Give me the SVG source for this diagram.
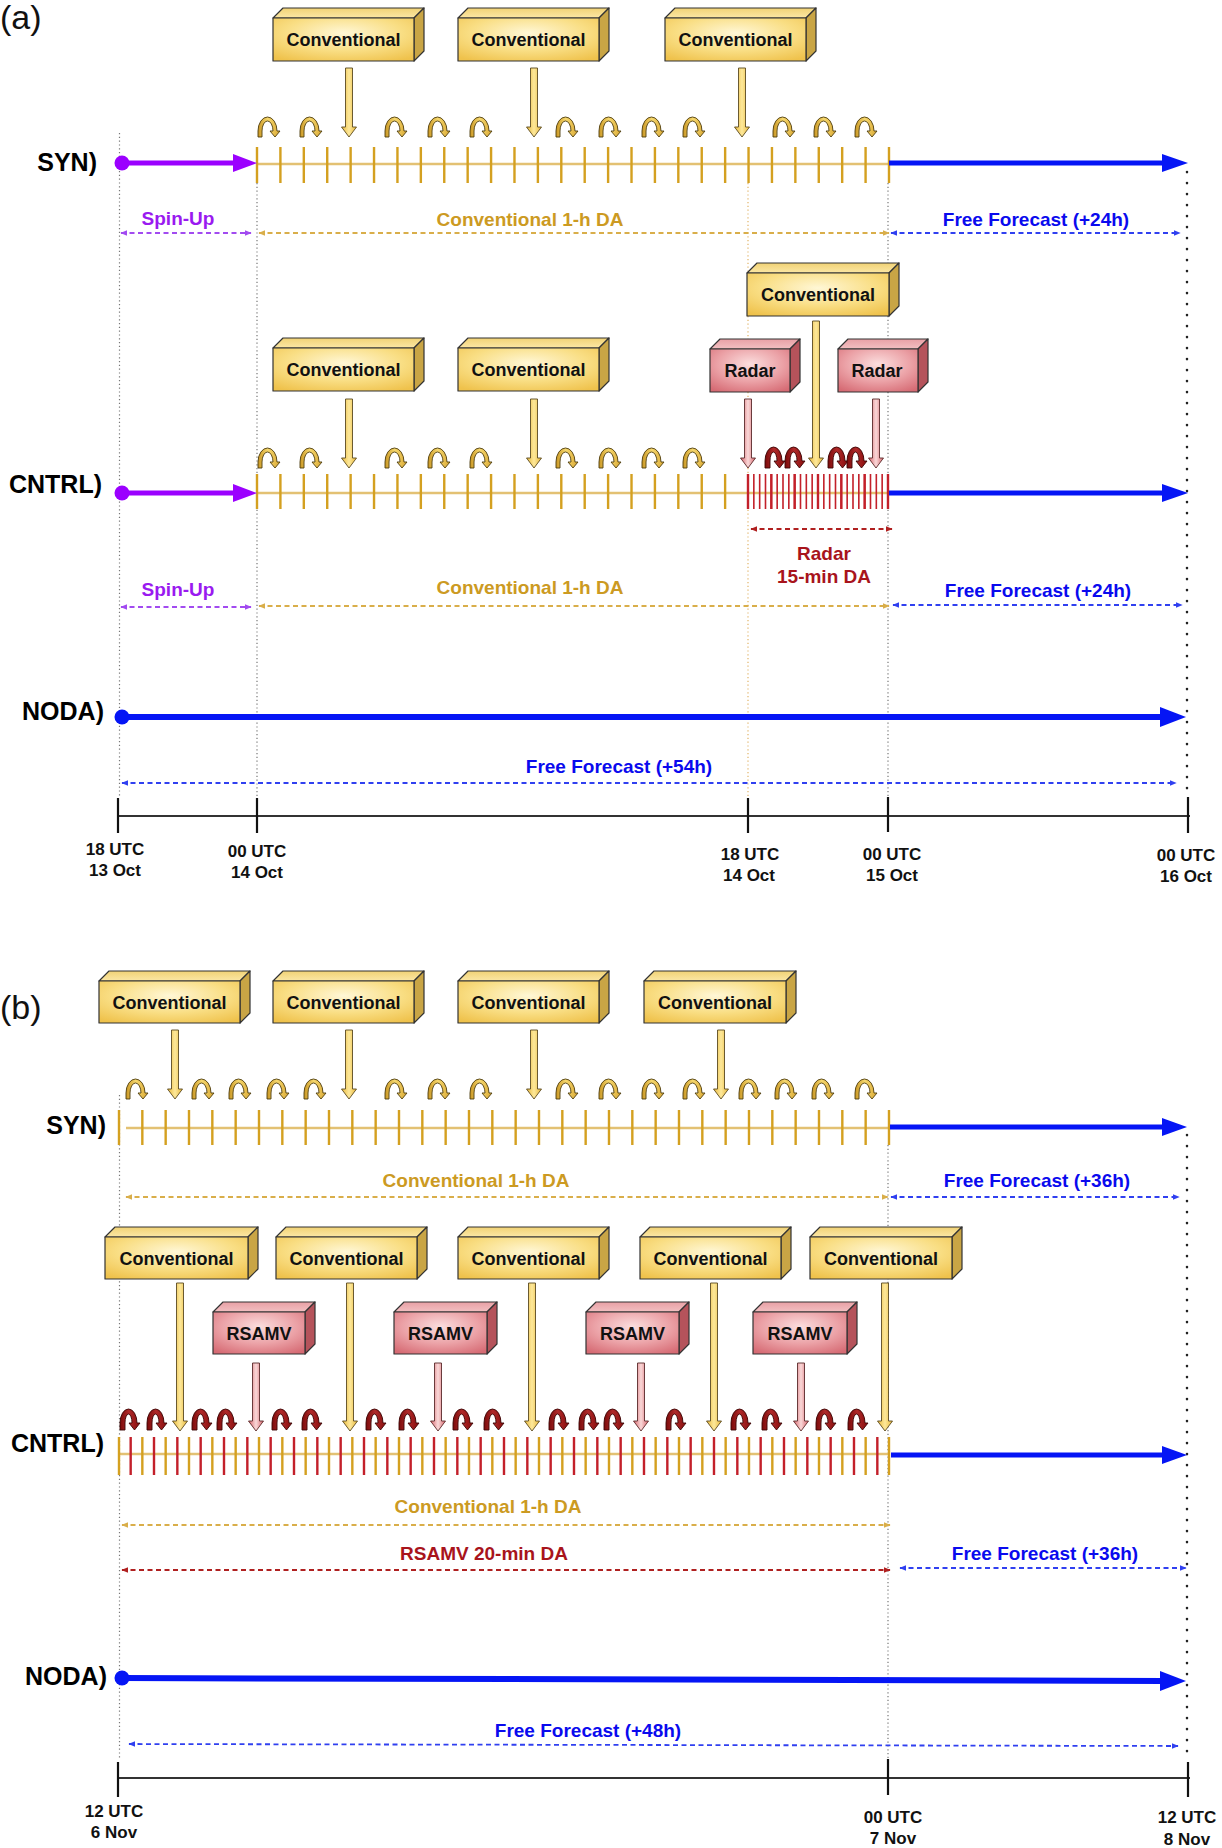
<svg xmlns="http://www.w3.org/2000/svg" width="1222" height="1848" viewBox="0 0 1222 1848">
<defs>
<style>
text{font-family:"Liberation Sans",Arial,Helvetica,sans-serif;font-weight:bold}
.pl{font-weight:normal;font-size:34px;fill:#111}
.row{font-size:25px;fill:#000;text-anchor:end}
.bx{font-size:18px;fill:#111;text-anchor:middle}
.lb{font-size:19px;text-anchor:middle}
.ax{font-size:17px;fill:#111;text-anchor:middle}
.pu{fill:#9A1AF0}.go{fill:#CC9A22}.bl{fill:#0A0AEE}.rd{fill:#A8141C}
.bf{stroke:#333;stroke-width:1.2;stroke-linejoin:round}
.cf{fill:url(#cFront)}.ct{fill:url(#cTop)}.cr{fill:#C9A545}
.rf{fill:url(#rFront)}.rt{fill:url(#rTop)}.rr{fill:#B5535B}
.ca{fill:url(#cArr);stroke:#5a4a20;stroke-width:0.9}
.ra{fill:url(#rArr);stroke:#5a2a2a;stroke-width:0.9}
.dot{stroke:#777;stroke-width:1.2;stroke-dasharray:1.2 2.6;fill:none}
.doto{stroke:#E2B468;stroke-width:1.2;stroke-dasharray:1.2 2.6;fill:none}
.dotk{stroke:#222;stroke-width:2.6;stroke-dasharray:0.1 10.9;stroke-linecap:round;fill:none}
.dsh{stroke-width:1.8;stroke-dasharray:5 3.5;fill:none}
.tg{stroke:#D4A020;fill:none}
.tr{stroke:#C3202A;fill:none}
.tl{stroke:#E3C173;stroke-width:2.5}
.axl{stroke:#333;stroke-width:2;fill:none}
.axt{stroke:#111;stroke-width:2.2;fill:none}
</style>
<radialGradient id="cFront" cx="0.5" cy="0.35" r="0.75"><stop offset="0" stop-color="#FFF7D6"/><stop offset="0.55" stop-color="#F9DE84"/><stop offset="1" stop-color="#EFC24C"/></radialGradient>
<linearGradient id="cTop" x1="0" y1="0" x2="0" y2="1"><stop offset="0" stop-color="#F1D275"/><stop offset="1" stop-color="#FBE7A5"/></linearGradient>
<radialGradient id="rFront" cx="0.5" cy="0.35" r="0.75"><stop offset="0" stop-color="#FBDEDE"/><stop offset="0.55" stop-color="#EBA1A6"/><stop offset="1" stop-color="#D66B74"/></radialGradient>
<linearGradient id="rTop" x1="0" y1="0" x2="0" y2="1"><stop offset="0" stop-color="#E8A0A5"/><stop offset="1" stop-color="#F2C0C2"/></linearGradient>
<linearGradient id="cArr" x1="0" x2="1"><stop offset="0" stop-color="#E9B83A"/><stop offset="0.5" stop-color="#FDE89A"/><stop offset="1" stop-color="#E9B83A"/></linearGradient>
<linearGradient id="rArr" x1="0" x2="1"><stop offset="0" stop-color="#D8646C"/><stop offset="0.5" stop-color="#F9D8D8"/><stop offset="1" stop-color="#D8646C"/></linearGradient>
<linearGradient id="gLoop" x1="0" x2="1"><stop offset="0" stop-color="#C99623"/><stop offset="0.45" stop-color="#F6D86E"/><stop offset="1" stop-color="#D9A733"/></linearGradient>
<linearGradient id="rLoop" x1="0" x2="1"><stop offset="0" stop-color="#7A0A0A"/><stop offset="0.45" stop-color="#B02A2A"/><stop offset="1" stop-color="#850C0C"/></linearGradient>
<path id="gl" d="M-12 0V-6A9.5 14 0 0 1 7-6H10L5 0L0-6H3A5.5 10 0 0 0-8-6V0Z" fill="url(#gLoop)" stroke="#4d3c0e" stroke-width="0.9"/>
<path id="rl" d="M-10 0V-7A8.5 14 0 0 1 7-7H10L4.5 0L-1-7H2A3.5 9 0 0 0-5-7V0Z" fill="url(#rLoop)" stroke="#3a0404" stroke-width="0.9"/>
<marker id="mp" viewBox="0 0 10 10" refX="9" refY="5" markerWidth="7" markerHeight="7" markerUnits="userSpaceOnUse" orient="auto-start-reverse"><path d="M0,1L10,5L0,9z" fill="#A24BF0"/></marker>
<marker id="mg" viewBox="0 0 10 10" refX="9" refY="5" markerWidth="7" markerHeight="7" markerUnits="userSpaceOnUse" orient="auto-start-reverse"><path d="M0,1L10,5L0,9z" fill="#D9AE4A"/></marker>
<marker id="mb" viewBox="0 0 10 10" refX="9" refY="5" markerWidth="7" markerHeight="7" markerUnits="userSpaceOnUse" orient="auto-start-reverse"><path d="M0,1L10,5L0,9z" fill="#3040F0"/></marker>
<marker id="mr" viewBox="0 0 10 10" refX="9" refY="5" markerWidth="7" markerHeight="7" markerUnits="userSpaceOnUse" orient="auto-start-reverse"><path d="M0,1L10,5L0,9z" fill="#B02020"/></marker>
</defs>
<rect width="1222" height="1848" fill="#fff"/>

<!-- ================= PANEL (a) ================= -->
<text class="pl" x="0" y="29">(a)</text>

<g id="a-guides">
<line class="dot" x1="119.5" y1="133" x2="119.5" y2="796"/>
<line class="dot" x1="257" y1="183" x2="257" y2="796"/>
<line class="doto" x1="748" y1="183" x2="748" y2="797"/>
<line class="dot" x1="888" y1="183" x2="888" y2="796"/>
<line class="dotk" x1="1187" y1="172" x2="1187" y2="797"/>
</g>

<g id="a-rowlabels">
<text class="row" x="97" y="171">SYN)</text>
<text class="row" x="102" y="493">CNTRL)</text>
<text class="row" x="104" y="720">NODA)</text>
</g>

<g id="a-timelines">
<line class="tl" x1="257" y1="164" x2="889" y2="164"/>
<line class="tg" x1="255.8" y1="165" x2="890.2" y2="165" stroke-width="36" stroke-dasharray="2.4 21.007"/>
<line class="tl" x1="257" y1="493" x2="888" y2="493"/>
<line class="tg" x1="255.8" y1="491.5" x2="726.3" y2="491.5" stroke-width="35" stroke-dasharray="2.4 21.007"/>
<line class="tr" x1="747.2" y1="491.5" x2="888.8" y2="491.5" stroke-width="35" stroke-dasharray="1.6 4.233"/>
<line class="tr" x1="746.8" y1="491.5" x2="889.2" y2="491.5" stroke-width="35" stroke-dasharray="2.4 20.93"/>
</g>

<g id="connectors">
<!-- thick run arrows (a) -->
<circle cx="122" cy="163" r="7.5" fill="#9B00FF"/>
<line x1="122" y1="163" x2="236" y2="163" stroke="#9B00FF" stroke-width="5"/>
<polygon points="233,154 257,163 233,172" fill="#9B00FF"/>
<circle cx="122" cy="493" r="7.5" fill="#9B00FF"/>
<line x1="122" y1="493" x2="236" y2="493" stroke="#9B00FF" stroke-width="5"/>
<polygon points="233,484 257,493 233,502" fill="#9B00FF"/>
<line x1="889" y1="163" x2="1165" y2="163" stroke="#0515F5" stroke-width="5"/>
<polygon points="1162,154 1188,163 1162,172" fill="#0515F5"/>
<line x1="889" y1="493" x2="1165" y2="493" stroke="#0515F5" stroke-width="5"/>
<polygon points="1162,484 1188,493 1162,502" fill="#0515F5"/>
<circle cx="122" cy="717" r="7.5" fill="#0515F5"/>
<line x1="122" y1="717" x2="1163" y2="717" stroke="#0515F5" stroke-width="6"/>
<polygon points="1160,707 1186,717 1160,727" fill="#0515F5"/>

<!-- dashed spans (a) -->
<line class="dsh" x1="121" y1="233" x2="251" y2="233" stroke="#A24BF0" marker-start="url(#mp)" marker-end="url(#mp)"/>
<line class="dsh" x1="259" y1="233" x2="889" y2="233" stroke="#D9AE4A" marker-start="url(#mg)" marker-end="url(#mg)"/>
<line class="dsh" x1="891" y1="233" x2="1180" y2="233" stroke="#3040F0" marker-start="url(#mb)" marker-end="url(#mb)"/>
<line class="dsh" x1="751" y1="529" x2="892" y2="529" stroke="#B02020" marker-start="url(#mr)" marker-end="url(#mr)"/>
<line class="dsh" x1="121" y1="607" x2="251" y2="607" stroke="#A24BF0" marker-start="url(#mp)" marker-end="url(#mp)"/>
<line class="dsh" x1="259" y1="606" x2="889" y2="606" stroke="#D9AE4A" marker-start="url(#mg)" marker-end="url(#mg)"/>
<line class="dsh" x1="893" y1="605" x2="1182" y2="605" stroke="#3040F0" marker-start="url(#mb)" marker-end="url(#mb)"/>
<line class="dsh" x1="122" y1="783" x2="1176" y2="783" stroke="#3040F0" marker-start="url(#mb)" marker-end="url(#mb)"/>

<!-- observation arrows (a) -->
<path class="ca" d="M345.5,68H352.5V127H356.5L349,137L341.5,127H345.5Z"/>
<path class="ca" d="M530.5,68H537.5V127H541.5L534,137L526.5,127H530.5Z"/>
<path class="ca" d="M738.5,68H745.5V127H749.5L742,137L734.5,127H738.5Z"/>
<path class="ca" d="M345.5,399H352.5V458H356.5L349,468L341.5,458H345.5Z"/>
<path class="ca" d="M530.5,399H537.5V458H541.5L534,468L526.5,458H530.5Z"/>
<path class="ca" d="M812.5,321H819.5V458H823.5L816,468L808.5,458H812.5Z"/>
<path class="ra" d="M744.5,399H751.5V458H755.5L748,468L740.5,458H744.5Z"/>
<path class="ra" d="M872.5,399H879.5V458H883.5L876,468L868.5,458H872.5Z"/>

<!-- cycling loops (a) -->
<use href="#gl" x="270" y="137"/><use href="#gl" x="312" y="137"/><use href="#gl" x="397" y="137"/><use href="#gl" x="440" y="137"/><use href="#gl" x="482" y="137"/><use href="#gl" x="568" y="137"/><use href="#gl" x="611" y="137"/><use href="#gl" x="654" y="137"/><use href="#gl" x="695" y="137"/><use href="#gl" x="785" y="137"/><use href="#gl" x="826" y="137"/><use href="#gl" x="867" y="137"/>
<use href="#gl" x="270" y="468"/><use href="#gl" x="312" y="468"/><use href="#gl" x="397" y="468"/><use href="#gl" x="440" y="468"/><use href="#gl" x="482" y="468"/><use href="#gl" x="568" y="468"/><use href="#gl" x="611" y="468"/><use href="#gl" x="654" y="468"/><use href="#gl" x="695" y="468"/>
<use href="#rl" x="775" y="468"/><use href="#rl" x="795" y="468"/><use href="#rl" x="838" y="468"/><use href="#rl" x="857" y="468"/>
</g>

<!-- nodes (a) -->
<g id="a-syn-conv1"><polygon class="bf ct" points="273,18 283,8 424,8 414,18"/><polygon class="bf cr" points="414,18 424,8 424,51 414,61"/><rect class="bf cf" x="273" y="18" width="141" height="43"/><text class="bx" x="343.5" y="46">Conventional</text></g>
<g id="a-syn-conv2"><polygon class="bf ct" points="458,18 468,8 609,8 599,18"/><polygon class="bf cr" points="599,18 609,8 609,51 599,61"/><rect class="bf cf" x="458" y="18" width="141" height="43"/><text class="bx" x="528.5" y="46">Conventional</text></g>
<g id="a-syn-conv3"><polygon class="bf ct" points="665,18 675,8 816,8 806,18"/><polygon class="bf cr" points="806,18 816,8 816,51 806,61"/><rect class="bf cf" x="665" y="18" width="141" height="43"/><text class="bx" x="735.5" y="46">Conventional</text></g>
<g id="a-cntrl-conv1"><polygon class="bf ct" points="273,348 283,338 424,338 414,348"/><polygon class="bf cr" points="414,348 424,338 424,381 414,391"/><rect class="bf cf" x="273" y="348" width="141" height="43"/><text class="bx" x="343.5" y="376">Conventional</text></g>
<g id="a-cntrl-conv2"><polygon class="bf ct" points="458,348 468,338 609,338 599,348"/><polygon class="bf cr" points="599,348 609,338 609,381 599,391"/><rect class="bf cf" x="458" y="348" width="141" height="43"/><text class="bx" x="528.5" y="376">Conventional</text></g>
<g id="a-cntrl-conv3"><polygon class="bf ct" points="747,273 757,263 899,263 889,273"/><polygon class="bf cr" points="889,273 899,263 899,306 889,316"/><rect class="bf cf" x="747" y="273" width="142" height="43"/><text class="bx" x="818" y="301">Conventional</text></g>
<g id="a-cntrl-radar1"><polygon class="bf rt" points="710,349 720,339 800,339 790,349"/><polygon class="bf rr" points="790,349 800,339 800,382 790,392"/><rect class="bf rf" x="710" y="349" width="80" height="43"/><text class="bx" x="750" y="377">Radar</text></g>
<g id="a-cntrl-radar2"><polygon class="bf rt" points="838,349 848,339 928,339 918,349"/><polygon class="bf rr" points="918,349 928,339 928,382 918,392"/><rect class="bf rf" x="838" y="349" width="80" height="43"/><text class="bx" x="877" y="377">Radar</text></g>

<g id="a-spanlabels">
<text class="lb pu" x="178" y="225">Spin-Up</text>
<text class="lb go" x="530" y="226">Conventional 1-h DA</text>
<text class="lb bl" x="1036" y="226">Free Forecast (+24h)</text>
<text class="lb rd" x="824" y="560">Radar</text>
<text class="lb rd" x="824" y="583">15-min DA</text>
<text class="lb pu" x="178" y="596">Spin-Up</text>
<text class="lb go" x="530" y="594">Conventional 1-h DA</text>
<text class="lb bl" x="1038" y="597">Free Forecast (+24h)</text>
<text class="lb bl" x="619" y="773">Free Forecast (+54h)</text>
</g>

<g id="a-axis">
<line class="axl" x1="118" y1="816" x2="1190" y2="816"/>
<line class="axt" x1="118" y1="798" x2="118" y2="833"/>
<line class="axt" x1="257" y1="798" x2="257" y2="833"/>
<line class="axt" x1="748" y1="798" x2="748" y2="833" stroke-width="1.3"/>
<line class="axt" x1="888" y1="797" x2="888" y2="832"/>
<line class="axt" x1="1188" y1="797" x2="1188" y2="833"/>
<text class="ax" x="115" y="855">18 UTC</text><text class="ax" x="115" y="876">13 Oct</text>
<text class="ax" x="257" y="857">00 UTC</text><text class="ax" x="257" y="878">14 Oct</text>
<text class="ax" x="750" y="860">18 UTC</text><text class="ax" x="749" y="881">14 Oct</text>
<text class="ax" x="892" y="860">00 UTC</text><text class="ax" x="892" y="881">15 Oct</text>
<text class="ax" x="1186" y="861">00 UTC</text><text class="ax" x="1186" y="882">16 Oct</text>
</g>

<!-- ================= PANEL (b) ================= -->
<text class="pl" x="0" y="1019">(b)</text>

<g id="b-guides">
<line class="dot" x1="119.5" y1="1095" x2="119.5" y2="1760"/>
<line class="dot" x1="888" y1="1145" x2="888" y2="1758"/>
<line class="dotk" x1="1187" y1="1135" x2="1187" y2="1760"/>
</g>

<g id="b-rowlabels">
<text class="row" x="106" y="1134">SYN)</text>
<text class="row" x="104" y="1452">CNTRL)</text>
<text class="row" x="107" y="1685">NODA)</text>
</g>

<g id="b-timelines">
<line class="tl" x1="126" y1="1128" x2="889" y2="1128"/>
<line class="tg" x1="117.8" y1="1127.5" x2="890.2" y2="1127.5" stroke-width="35" stroke-dasharray="2.4 20.933"/>
<line class="tl" x1="119" y1="1454" x2="889" y2="1454"/>
<line class="tg" x1="117.8" y1="1456" x2="890.2" y2="1456" stroke-width="38" stroke-dasharray="2.4 20.933"/>
<line class="tr" x1="129.47" y1="1456" x2="878.53" y2="1456" stroke-width="38" stroke-dasharray="2.4 20.933"/>
</g>

<g id="connectors-b">
<line x1="890" y1="1127" x2="1165" y2="1127" stroke="#0515F5" stroke-width="5"/>
<polygon points="1162,1118 1187,1127 1162,1136" fill="#0515F5"/>
<line x1="891" y1="1455" x2="1165" y2="1455" stroke="#0515F5" stroke-width="5"/>
<polygon points="1162,1446 1187,1455 1162,1464" fill="#0515F5"/>
<circle cx="122" cy="1678" r="7.5" fill="#0515F5"/>
<line x1="122" y1="1678" x2="1163" y2="1681" stroke="#0515F5" stroke-width="6"/>
<polygon points="1160,1671 1186,1681 1160,1691" fill="#0515F5"/>

<line class="dsh" x1="126" y1="1197" x2="888" y2="1197" stroke="#D9AE4A" marker-start="url(#mg)" marker-end="url(#mg)"/>
<line class="dsh" x1="891" y1="1197" x2="1179" y2="1197" stroke="#3040F0" marker-start="url(#mb)" marker-end="url(#mb)"/>
<line class="dsh" x1="122" y1="1525" x2="890" y2="1525" stroke="#D9AE4A" marker-start="url(#mg)" marker-end="url(#mg)"/>
<line class="dsh" x1="122" y1="1570" x2="890" y2="1570" stroke="#B02020" marker-start="url(#mr)" marker-end="url(#mr)"/>
<line class="dsh" x1="900" y1="1568" x2="1186" y2="1568" stroke="#3040F0" marker-start="url(#mb)" marker-end="url(#mb)"/>
<line class="dsh" x1="129" y1="1744" x2="1178" y2="1746" stroke="#3040F0" marker-start="url(#mb)" marker-end="url(#mb)"/>

<path class="ca" d="M171.5,1030H178.5V1089H182.5L175,1099L167.5,1089H171.5Z"/>
<path class="ca" d="M345.5,1030H352.5V1089H356.5L349,1099L341.5,1089H345.5Z"/>
<path class="ca" d="M530.5,1030H537.5V1089H541.5L534,1099L526.5,1089H530.5Z"/>
<path class="ca" d="M717.5,1030H724.5V1089H728.5L721,1099L713.5,1089H717.5Z"/>
<path class="ca" d="M176.5,1283H183.5V1421H187.5L180,1431L172.5,1421H176.5Z"/>
<path class="ca" d="M346.5,1283H353.5V1421H357.5L350,1431L342.5,1421H346.5Z"/>
<path class="ca" d="M528.5,1283H535.5V1421H539.5L532,1431L524.5,1421H528.5Z"/>
<path class="ca" d="M710.5,1283H717.5V1421H721.5L714,1431L706.5,1421H710.5Z"/>
<path class="ca" d="M881.5,1283H888.5V1421H892.5L885,1431L877.5,1421H881.5Z"/>
<path class="ra" d="M252.5,1363H259.5V1421H263.5L256,1431L248.5,1421H252.5Z"/>
<path class="ra" d="M434.5,1363H441.5V1421H445.5L438,1431L430.5,1421H434.5Z"/>
<path class="ra" d="M637.5,1363H644.5V1421H648.5L641,1431L633.5,1421H637.5Z"/>
<path class="ra" d="M797.5,1363H804.5V1421H808.5L801,1431L793.5,1421H797.5Z"/>

<use href="#gl" x="138" y="1099"/><use href="#gl" x="204" y="1099"/><use href="#gl" x="241" y="1099"/><use href="#gl" x="279" y="1099"/><use href="#gl" x="316" y="1099"/><use href="#gl" x="397" y="1099"/><use href="#gl" x="440" y="1099"/><use href="#gl" x="482" y="1099"/><use href="#gl" x="568" y="1099"/><use href="#gl" x="611" y="1099"/><use href="#gl" x="654" y="1099"/><use href="#gl" x="695" y="1099"/><use href="#gl" x="751" y="1099"/><use href="#gl" x="787" y="1099"/><use href="#gl" x="824" y="1099"/><use href="#gl" x="867" y="1099"/>
<use href="#rl" x="130" y="1430"/><use href="#rl" x="157" y="1430"/><use href="#rl" x="202" y="1430"/><use href="#rl" x="227" y="1430"/><use href="#rl" x="282" y="1430"/><use href="#rl" x="312" y="1430"/><use href="#rl" x="376" y="1430"/><use href="#rl" x="409" y="1430"/><use href="#rl" x="463" y="1430"/><use href="#rl" x="494" y="1430"/><use href="#rl" x="559" y="1430"/><use href="#rl" x="589" y="1430"/><use href="#rl" x="614" y="1430"/><use href="#rl" x="676" y="1430"/><use href="#rl" x="741" y="1430"/><use href="#rl" x="772" y="1430"/><use href="#rl" x="826" y="1430"/><use href="#rl" x="858" y="1430"/>
</g>

<!-- nodes (b) -->
<g id="b-syn-conv1"><polygon class="bf ct" points="99,981 109,971 250,971 240,981"/><polygon class="bf cr" points="240,981 250,971 250,1013 240,1023"/><rect class="bf cf" x="99" y="981" width="141" height="42"/><text class="bx" x="169.5" y="1008.5">Conventional</text></g>
<g id="b-syn-conv2"><polygon class="bf ct" points="273,981 283,971 424,971 414,981"/><polygon class="bf cr" points="414,981 424,971 424,1013 414,1023"/><rect class="bf cf" x="273" y="981" width="141" height="42"/><text class="bx" x="343.5" y="1008.5">Conventional</text></g>
<g id="b-syn-conv3"><polygon class="bf ct" points="458,981 468,971 609,971 599,981"/><polygon class="bf cr" points="599,981 609,971 609,1013 599,1023"/><rect class="bf cf" x="458" y="981" width="141" height="42"/><text class="bx" x="528.5" y="1008.5">Conventional</text></g>
<g id="b-syn-conv4"><polygon class="bf ct" points="644,981 654,971 796,971 786,981"/><polygon class="bf cr" points="786,981 796,971 796,1013 786,1023"/><rect class="bf cf" x="644" y="981" width="142" height="42"/><text class="bx" x="715" y="1008.5">Conventional</text></g>

<g id="b-cntrl-conv1"><polygon class="bf ct" points="105,1237 115,1227 258,1227 248,1237"/><polygon class="bf cr" points="248,1237 258,1227 258,1269 248,1279"/><rect class="bf cf" x="105" y="1237" width="143" height="42"/><text class="bx" x="176.5" y="1264.5">Conventional</text></g>
<g id="b-cntrl-conv2"><polygon class="bf ct" points="276,1237 286,1227 427,1227 417,1237"/><polygon class="bf cr" points="417,1237 427,1227 427,1269 417,1279"/><rect class="bf cf" x="276" y="1237" width="141" height="42"/><text class="bx" x="346.5" y="1264.5">Conventional</text></g>
<g id="b-cntrl-conv3"><polygon class="bf ct" points="458,1237 468,1227 609,1227 599,1237"/><polygon class="bf cr" points="599,1237 609,1227 609,1269 599,1279"/><rect class="bf cf" x="458" y="1237" width="141" height="42"/><text class="bx" x="528.5" y="1264.5">Conventional</text></g>
<g id="b-cntrl-conv4"><polygon class="bf ct" points="640,1237 650,1227 791,1227 781,1237"/><polygon class="bf cr" points="781,1237 791,1227 791,1269 781,1279"/><rect class="bf cf" x="640" y="1237" width="141" height="42"/><text class="bx" x="710.5" y="1264.5">Conventional</text></g>
<g id="b-cntrl-conv5"><polygon class="bf ct" points="810,1237 820,1227 962,1227 952,1237"/><polygon class="bf cr" points="952,1237 962,1227 962,1269 952,1279"/><rect class="bf cf" x="810" y="1237" width="142" height="42"/><text class="bx" x="881" y="1264.5">Conventional</text></g>

<g id="b-cntrl-rsamv1"><polygon class="bf rt" points="213,1312 223,1302 315,1302 305,1312"/><polygon class="bf rr" points="305,1312 315,1302 315,1344 305,1354"/><rect class="bf rf" x="213" y="1312" width="92" height="42"/><text class="bx" x="259" y="1339.5">RSAMV</text></g>
<g id="b-cntrl-rsamv2"><polygon class="bf rt" points="394,1312 404,1302 497,1302 487,1312"/><polygon class="bf rr" points="487,1312 497,1302 497,1344 487,1354"/><rect class="bf rf" x="394" y="1312" width="93" height="42"/><text class="bx" x="440.5" y="1339.5">RSAMV</text></g>
<g id="b-cntrl-rsamv3"><polygon class="bf rt" points="586,1312 596,1302 689,1302 679,1312"/><polygon class="bf rr" points="679,1312 689,1302 689,1344 679,1354"/><rect class="bf rf" x="586" y="1312" width="93" height="42"/><text class="bx" x="632.5" y="1339.5">RSAMV</text></g>
<g id="b-cntrl-rsamv4"><polygon class="bf rt" points="753,1312 763,1302 857,1302 847,1312"/><polygon class="bf rr" points="847,1312 857,1302 857,1344 847,1354"/><rect class="bf rf" x="753" y="1312" width="94" height="42"/><text class="bx" x="800" y="1339.5">RSAMV</text></g>

<g id="b-spanlabels">
<text class="lb go" x="476" y="1187">Conventional 1-h DA</text>
<text class="lb bl" x="1037" y="1187">Free Forecast (+36h)</text>
<text class="lb go" x="488" y="1513">Conventional 1-h DA</text>
<text class="lb rd" x="484" y="1560">RSAMV 20-min DA</text>
<text class="lb bl" x="1045" y="1560">Free Forecast (+36h)</text>
<text class="lb bl" x="588" y="1737">Free Forecast (+48h)</text>
</g>

<g id="b-axis">
<line class="axl" x1="118" y1="1778" x2="1190" y2="1778"/>
<line class="axt" x1="118" y1="1762" x2="118" y2="1797"/>
<line class="axt" x1="888" y1="1759" x2="888" y2="1795"/>
<line class="axt" x1="1188" y1="1762" x2="1188" y2="1797"/>
<text class="ax" x="114" y="1817">12 UTC</text><text class="ax" x="114" y="1838">6 Nov</text>
<text class="ax" x="893" y="1823">00 UTC</text><text class="ax" x="893" y="1844">7 Nov</text>
<text class="ax" x="1187" y="1823">12 UTC</text><text class="ax" x="1187" y="1845">8 Nov</text>
</g>
</svg>
